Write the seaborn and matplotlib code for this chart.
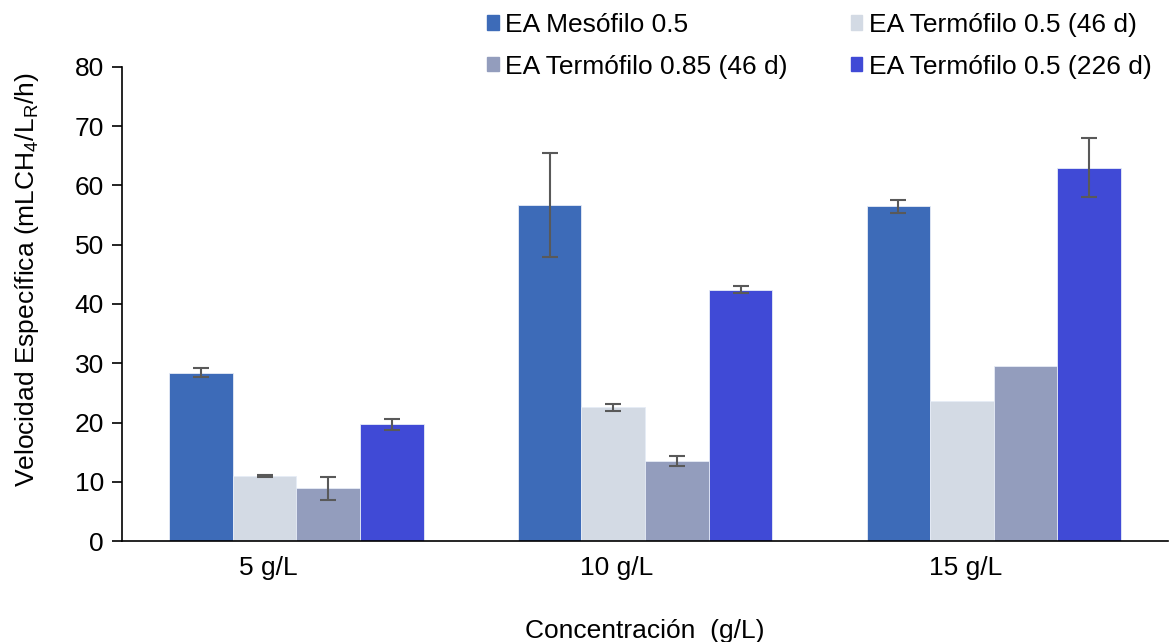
import pandas as pd
import seaborn as sns
import matplotlib.pyplot as plt
import matplotlib.transforms as mtransforms
import numpy as np

# Data
concentraciones = ['5 g/L', '10 g/L', '15 g/L']
series = ['EA Mesófilo 0.5', 'EA Termófilo 0.5 (46 d)',
          'EA Termófilo 0.85 (46 d)', 'EA Termófilo 0.5 (226 d)']
mesofilo_05 = [28.4, 56.7, 56.5]
termofilo_05_46 = [11.0, 22.6, 23.7]
termofilo_085_46 = [8.9, 13.5, 29.5]
termofilo_05_226 = [19.7, 42.4, 63.0]
err_mesofilo_05 = [0.75, 8.7, 1.1]
err_termofilo_05_46 = [0.1, 0.6, 0.0]
err_termofilo_085_46 = [2.0, 0.9, 0.0]
err_termofilo_05_226 = [0.9, 0.6, 5.0]

colores = ['#3D6BB8', '#D3DAE4', '#939DBD', '#404AD6']

valores = [mesofilo_05, termofilo_05_46, termofilo_085_46, termofilo_05_226]
errores = [err_mesofilo_05, err_termofilo_05_46, err_termofilo_085_46, err_termofilo_05_226]

rows = []
for s, vals, errs in zip(series, valores, errores):
    for c, v, e in zip(concentraciones, vals, errs):
        rows.append({'conc': c, 'serie': s, 'valor': v, 'err': e})
df = pd.DataFrame(rows)

sns.set_style('white')
plt.rcParams['font.family'] = ['Liberation Sans', 'DejaVu Sans']
plt.rcParams['mathtext.default'] = 'regular'
plt.rcParams['text.color'] = 'black'
plt.rcParams['axes.labelcolor'] = 'black'
plt.rcParams['xtick.color'] = 'black'
plt.rcParams['ytick.color'] = 'black'

fs = 19

fig, ax = plt.subplots(figsize=(11.74, 6.42), dpi=100)
fig.subplots_adjust(left=0.104, right=0.995, bottom=0.157, top=0.896)

sns.barplot(data=df, x='conc', y='valor', hue='serie', hue_order=series,
            order=concentraciones, palette=colores, saturation=1, width=0.73, gap=0,
            errorbar=None, edgecolor='#E6ECF6', linewidth=0.6, ax=ax)

# error bars at bar centres
for container, s in zip(ax.containers, series):
    sub = df[df['serie'] == s].set_index('conc').loc[concentraciones]
    xs = np.array([p.get_x() + p.get_width() / 2 for p in container.patches])
    ys = np.array([p.get_height() for p in container.patches])
    errs = sub['err'].values
    mask = errs > 0
    ax.errorbar(xs[mask], ys[mask], yerr=errs[mask],
                fmt='none', ecolor='#595959', elinewidth=1.5, capsize=6, capthick=1.5)

ax.set_ylim(0, 80)
ax.set_yticks(range(0, 81, 10))
ax.set_xlim(-0.5, 2.5)
ax.set_xticks([-0.5, 0.5, 1.5, 2.5], minor=True)
ax.tick_params(axis='x', which='major', length=0, labelsize=fs, pad=11)
ax.tick_params(axis='x', which='minor', length=8, width=1.2, direction='out', color='black')
ax.tick_params(axis='y', length=7, width=1.2, direction='out', labelsize=fs, color='black', pad=6)
ax.tick_params(bottom=True, left=True)

offset = mtransforms.ScaledTranslation(-28 / 100, 0, fig.dpi_scale_trans)
for lbl in ax.get_xticklabels():
    lbl.set_transform(lbl.get_transform() + offset)

sns.despine(ax=ax)
for sp in ['left', 'bottom']:
    ax.spines[sp].set_color('black')
    ax.spines[sp].set_linewidth(1.2)

ax.set_xlabel('Concentración  (g/L)', fontsize=fs, labelpad=28)
ax.set_ylabel('Velocidad Específica (mLCH$_4$/L$_R$/h)', fontsize=fs)
ax.yaxis.set_label_coords(-0.078, 0.55)

ax.get_legend().remove()
handles = [plt.Rectangle((0, 0), 1, 1, color=c) for c in colores]
order = [0, 2, 1, 3]
fig.legend([handles[i] for i in order], [series[i] for i in order], ncol=2,
           loc='upper left', bbox_to_anchor=(487 / 1174, 0.98),
           frameon=False, fontsize=fs, handlelength=0.45, handleheight=0.45,
           handletextpad=0.25, columnspacing=2.37, labelspacing=0.68, borderpad=0,
           borderaxespad=0)

plt.savefig('out.png', dpi=100)
